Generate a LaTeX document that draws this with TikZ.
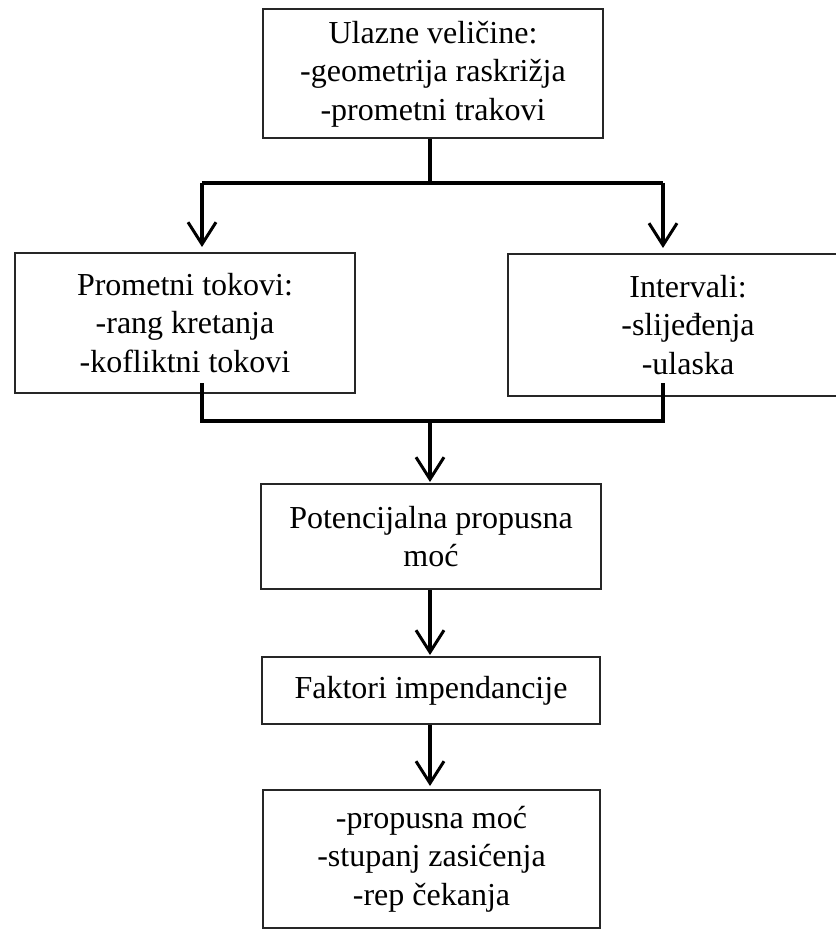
\documentclass[tikz,border=0pt]{standalone}
\usepackage{fontspec}
\setmainfont{Liberation Serif}
\usetikzlibrary{arrows.meta}

\begin{document}
\begin{tikzpicture}[x=0.5pt,y=-0.5pt,
	blok/.style={draw=black!85,line width=1pt,align=center,inner sep=0pt,
		font=\fontsize{16}{19.25}\selectfont},
	strelica/.style={line width=1.7pt,-{Straight Barb[length=11pt,width=14pt,line width=1.5pt]}},
	veza/.style={line width=1.7pt}]
	\useasboundingbox (0,0) rectangle (835,930);

	\node[blok,minimum width=170pt,minimum height=64.5pt] (ulaz) at (433,74) {Ulazne veličine:\\-geometrija raskrižja\\-prometni trakovi};
	\node[blok,minimum width=170pt,minimum height=70pt] (tokovi) at (185,323) {Prometni tokovi:\\-rang kretanja\\-kofliktni tokovi};
	\node[blok,minimum width=180pt,minimum height=71pt] (intervali) at (688,325) {Intervali:\\-slijeđenja\\-ulaska};
	\node[blok,minimum width=170pt,minimum height=52.5pt] (potencijal) at (431,536.5) {Potencijalna propusna\\moć};
	\node[blok,minimum width=169pt,minimum height=33.5pt] (faktori) at (431,690.5) {Faktori impendancije};
	\node[blok,minimum width=168.5pt,minimum height=69pt] (izlaz) at (431.5,859) {-propusna moć\\-stupanj zasićenja\\-rep čekanja};

	\coordinate (grana) at (430,183);
	\coordinate (lijevo) at (202,183);
	\coordinate (desno) at (663,183);
	\coordinate (vrhL) at (202,247);
	\coordinate (vrhD) at (663,248);
	\coordinate (dnoL) at (202,383);
	\coordinate (dnoD) at (663,383);
	\coordinate (spojL) at (202,421);
	\coordinate (spojD) at (663,421);
	\coordinate (spoj) at (430,421);
	\coordinate (vrhP) at (430,482);
	\coordinate (vrhF) at (430,655);
	\coordinate (vrhI) at (430,786);

	\draw[veza] (ulaz.south -| grana) -- (grana);
	\draw[veza] (lijevo) -- (desno);
	\draw[strelica] (lijevo) -- (vrhL);
	\draw[strelica] (desno) -- (vrhD);

	\draw[veza] (dnoL) -- (spojL) -- (spojD) -- (dnoD);
	\draw[strelica] (spoj) -- (vrhP);
	\draw[strelica] (potencijal.south -| spoj) -- (vrhF);
	\draw[strelica] (faktori.south -| spoj) -- (vrhI);
\end{tikzpicture}
\end{document}
